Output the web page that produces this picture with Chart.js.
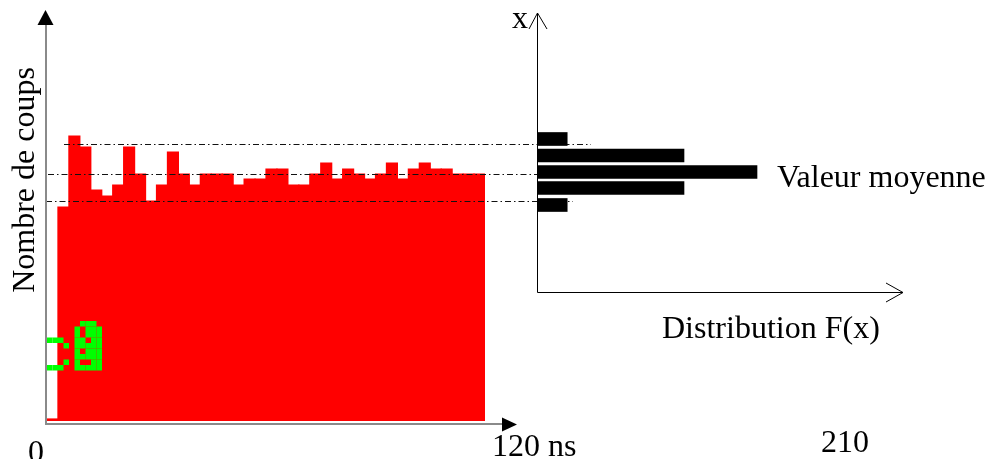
<!DOCTYPE html>
<html>
<head>
<meta charset="utf-8">
<script src="https://cdn.jsdelivr.net/npm/chart.js@4/dist/chart.umd.min.js"></script>
<style>
  body { margin: 0; background: #fff; }
  #wrap { position: relative; width: 1006px; height: 459px; overflow: hidden; }
  #wrap canvas { position: absolute; left: 0; top: 0; }
</style>
</head>
<body>
<div id="wrap">
  <canvas id="chartHisto" width="1006" height="459"></canvas>
  <canvas id="chartDistrib" width="1006" height="459"></canvas>
</div>
<script>
// Histogramme : 40 canaux de 3 ns (0 a 120 ns)
const canaux = ["0","3","6","9","12","15","18","21","24","27","30","33","36","39","42","45","48","51","54","57",
                "60","63","66","69","72","75","78","81","84","87","90","93","96","99","102","105","108","111","114","117"];
const coups = [2, 214, 285, 274, 231, 225, 236, 274, 247, 220, 236, 269, 247, 236, 247, 247, 247, 236, 242, 242,
               252, 252, 236, 236, 247, 258, 242, 252, 247, 242, 247, 258, 242, 252, 258, 252, 252, 247, 247, 247];

// Niveaux de reference (traits mixtes) : haut, moyenne, bas
const niveaux = [277.5, 247.5, 220];

// Distribution F(x) : niveaux x et frequences
const niveauxX = [282, 265.5, 249, 233, 216];
const frequences = [2, 10, 15, 10, 2];

// Textes
const titreY = "Nombre de coups";
const titreDistrib = "Distribution F(x)";
const texteMoyenne = "Valeur moyenne";
const etiquettesTemps = ["0", "120 ns", "210"];
const titreX = "x";

// Petit motif vert (artefact de l'original)
const motifVert = [
  "......###.",
  ".....#.###",
  ".....#.###",
  "###..##.##",
  "...#.#####",
  ".....#.###",
  ".....#####",
  "...#.#..##",
  "###..#####"
];

const police = '32px "Liberation Serif", "Times New Roman", serif';

const decorHisto = {
  id: "decorHisto",
  afterDatasetsDraw(chart) {
    const ctx = chart.ctx;
    const y = chart.scales.y;
    ctx.save();
    // motif vert
    ctx.fillStyle = "#00ff00";
    const cell = 5.5;
    motifVert.forEach((row, r) => {
      for (let c = 0; c < row.length; c++) {
        if (row[c] === "#") ctx.fillRect(47 + c * cell, 321 + r * cell, cell, cell);
      }
    });
    // traits mixtes
    const bornes = [[64, 591], [48, 538], [46, 573]];
    ctx.strokeStyle = "#111";
    ctx.lineWidth = 1;
    ctx.setLineDash([6, 3, 1.5, 3]);
    niveaux.forEach((v, i) => {
      const py = Math.round(y.getPixelForValue(v)) + 0.5;
      ctx.beginPath();
      ctx.moveTo(bornes[i][0], py);
      ctx.lineTo(bornes[i][1], py);
      ctx.stroke();
    });
    ctx.setLineDash([]);
    // axes gris avec fleches pleines
    ctx.strokeStyle = "#8a8a8a";
    ctx.lineWidth = 2;
    ctx.beginPath();
    ctx.moveTo(46, 24);
    ctx.lineTo(46, 424);
    ctx.lineTo(503, 424);
    ctx.stroke();
    ctx.fillStyle = "#000";
    ctx.beginPath();
    ctx.moveTo(45.5, 10); ctx.lineTo(37.5, 25); ctx.lineTo(53.5, 25); ctx.closePath();
    ctx.fill();
    ctx.beginPath();
    ctx.moveTo(517, 424.5); ctx.lineTo(502, 417.5); ctx.lineTo(502, 431.5); ctx.closePath();
    ctx.fill();
    // textes
    ctx.font = police;
    ctx.fillStyle = "#000";
    ctx.textBaseline = "alphabetic";
    ctx.textAlign = "left";
    ctx.fillText(etiquettesTemps[0], 28, 462);
    ctx.fillText(etiquettesTemps[1], 492, 456);
    ctx.fillText(etiquettesTemps[2], 821, 452);
    ctx.save();
    ctx.translate(34, 180);
    ctx.rotate(-Math.PI / 2);
    ctx.textAlign = "center";
    ctx.fillText(titreY, 0, 0);
    ctx.restore();
    ctx.restore();
  }
};

const decorDistrib = {
  id: "decorDistrib",
  afterDatasetsDraw(chart) {
    const ctx = chart.ctx;
    ctx.save();
    ctx.strokeStyle = "#000";
    ctx.lineWidth = 1;
    ctx.beginPath();
    ctx.moveTo(537.5, 13);
    ctx.lineTo(537.5, 292.5);
    ctx.lineTo(903, 292.5);
    ctx.stroke();
    ctx.beginPath();
    ctx.moveTo(529, 29); ctx.lineTo(537.5, 13); ctx.lineTo(547, 29);
    ctx.stroke();
    ctx.beginPath();
    ctx.moveTo(886, 283); ctx.lineTo(903, 292.5); ctx.lineTo(886, 302);
    ctx.stroke();
    ctx.font = police;
    ctx.fillStyle = "#000";
    ctx.textAlign = "left";
    ctx.fillText(titreX, 512, 28);
    ctx.fillText(texteMoyenne, 777, 187);
    ctx.fillText(titreDistrib, 662, 338);
    ctx.restore();
  }
};

const commun = {
  responsive: false,
  animation: false,
  events: [],
  plugins: { legend: { display: false }, tooltip: { enabled: false } }
};

new Chart(document.getElementById("chartHisto").getContext("2d"), {
  type: "bar",
  data: {
    labels: canaux,
    datasets: [{
      data: coups,
      backgroundColor: "#ff0000",
      borderWidth: 0,
      inflateAmount: 0.6,
      categoryPercentage: 1,
      barPercentage: 1
    }]
  },
  options: Object.assign({}, commun, {
    layout: { padding: { left: 47, right: 521, top: 10, bottom: 38 } },
    scales: {
      x: { display: false },
      y: { display: false, min: 0, max: 411 }
    }
  }),
  plugins: [decorHisto]
});

new Chart(document.getElementById("chartDistrib").getContext("2d"), {
  type: "bar",
  data: {
    datasets: [{
      data: niveauxX.map((v, i) => ({ y: v, x: frequences[i] })),
      backgroundColor: "#000",
      borderWidth: 0,
      barThickness: 13
    }]
  },
  options: Object.assign({}, commun, {
    indexAxis: "y",
    layout: { padding: { left: 538, right: 103, top: 13, bottom: 167 } },
    scales: {
      x: { type: "linear", display: false, min: 0, max: 25, offset: false },
      y: { type: "linear", display: false, min: 129, max: 408, offset: false, bounds: "data" }
    }
  }),
  plugins: [decorDistrib]
});
</script>
</body>
</html>
